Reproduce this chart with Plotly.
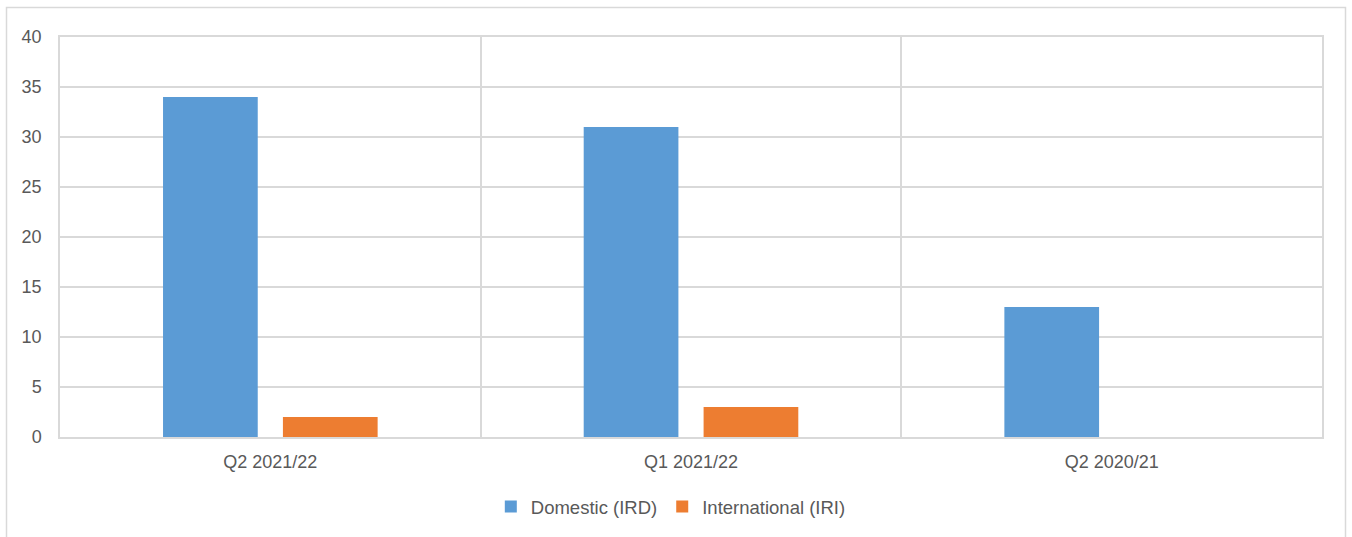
import plotly.graph_objects as go

quarters = ["Q2 2021/22", "Q1 2021/22", "Q2 2020/21"]
domestic_ird = [34, 31, 13]
international_iri = [2, 3, 0]
y_ticks = [0, 5, 10, 15, 20, 25, 30, 35, 40]

W, H = 1352, 537
L, R, T, B = 60, 30, 37, 99
grid = "#d9d9d9"
text_col = "#595959"

fig = go.Figure()
fig.add_trace(go.Bar(name="Domestic (IRD)", x=quarters, y=domestic_ird,
                     marker=dict(color="#5B9BD5", line=dict(width=0))))
fig.add_trace(go.Bar(name="International (IRI)", x=quarters, y=international_iri,
                     marker=dict(color="#ED7D31", line=dict(width=0))))

pw = W - L - R
ph = H - T - B
# light frame around the whole chart area
fig.add_shape(type="rect", xref="paper", yref="paper",
              x0=(6.5 - L) / pw, x1=(1345.5 - L) / pw,
              y0=(H - B - 545) / ph, y1=(H - B - 7.5) / ph,
              line=dict(color=grid, width=1.5), fillcolor="rgba(0,0,0,0)", layer="below")

fig.update_layout(
    width=W, height=H,
    margin=dict(l=L, r=R, t=T, b=B),
    paper_bgcolor="white", plot_bgcolor="white",
    barmode="group", bargap=0.43, bargroupgap=0.21,
    font=dict(family="Liberation Sans, Arial, sans-serif", size=18, color=text_col),
    showlegend=True,
    legend=dict(orientation="h", x=0.484, xanchor="center", y=-0.172, yanchor="middle",
                font=dict(size=18.5, color=text_col), itemwidth=30, traceorder="normal"),
    xaxis=dict(type="category", tickson="boundaries", showgrid=True, gridcolor=grid,
               gridwidth=1.5, showline=True, linecolor=grid, linewidth=1.5, mirror=True,
               ticks="", ticklabelstandoff=8, zeroline=False),
    yaxis=dict(range=[0, 40], tickvals=y_ticks, showgrid=True, gridcolor=grid,
               gridwidth=1.5, showline=True, linecolor=grid, linewidth=1.5, mirror=True,
               ticks="", ticklabelstandoff=13, zeroline=False),
)

fig.write_html("out.html")
